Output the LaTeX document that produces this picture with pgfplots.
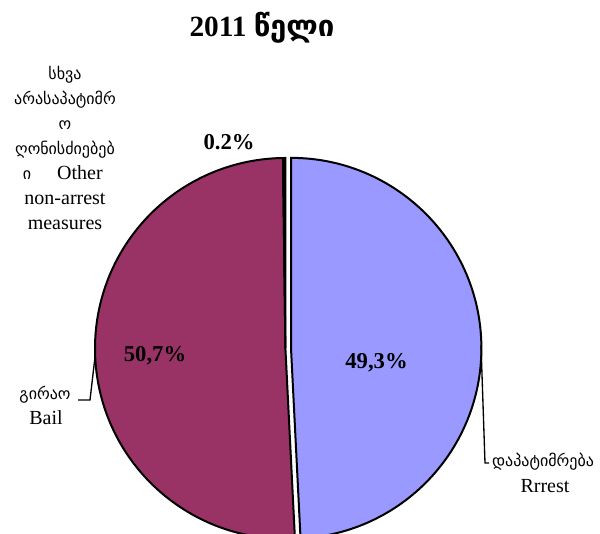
\documentclass[border=0pt]{standalone}
\usepackage{fontspec}
\setmainfont{Liberation Serif}
\newfontfamily\geo{DejaVu Sans}
\usepackage{pgfplots}
\usepackage{pgfplotstable}
\pgfplotsset{compat=1.18}
\definecolor{arrestblue}{HTML}{9999FF}
\definecolor{bailred}{HTML}{993366}
\definecolor{otheryel}{HTML}{FFFFCC}

% shares of the three measures, 2011
\pgfplotstableread{
measure share
Arrest 49.3
Bail   50.7
Other  0.2
}\piedata

\newcommand{\lat}{\fontsize{15}{18}\selectfont}
\newcommand{\geol}{\geo\fontsize{12}{18}\selectfont}
\newcommand{\pct}{\fontsize{17}{20}\selectfont\bfseries}

\begin{document}
\begin{tikzpicture}
\useasboundingbox (0,0) rectangle (450pt,400.5pt);
\pgfplotstablegetelem{0}{share}\of\piedata \let\sA\pgfplotsretval
\pgfplotstablegetelem{1}{share}\of\piedata \let\sB\pgfplotsretval
\pgfplotstablegetelem{2}{share}\of\piedata \let\sC\pgfplotsretval
\pgfmathsetmacro\tot{\sA+\sB+\sC}
\pgfmathsetmacro\aA{90-3.6*(\sA/\tot)*100}
\pgfmathsetmacro\aB{\aA-3.6*(\sB/\tot)*100}
\pgfmathsetmacro\aC{\aB-3.6*(\sC/\tot)*100}
\pgfmathsetmacro\mA{(90+\aA)/2}
\begin{axis}[
    at={(0,0)}, anchor=south west,
    x=0.75pt, y=0.75pt,
    xmin=0, xmax=600, ymin=0, ymax=534,
    hide axis, clip=false,
]
  % slices
  \filldraw[bailred, draw=black, line width=1.5pt]
    (axis cs:285.4,185.6) -- ++(\aA:142.8pt)
    arc[start angle=\aA, end angle=\aB, radius=142.8pt] -- cycle;
  \filldraw[otheryel, draw=black, line width=1.5pt]
    (axis cs:285.4,185.6) -- ++(\aB:142.8pt)
    arc[start angle=\aB, end angle=\aC, radius=142.8pt] -- cycle;
  \filldraw[arrestblue, draw=black, line width=1.5pt]
    (axis cs:285.4,185.6) ++(\mA:4.2pt) -- ++(90:142.8pt)
    arc[start angle=90, end angle=\aA, radius=142.8pt] -- cycle;

  % leader lines
  \draw[black, line width=1pt] (axis cs:78,134) -- (axis cs:90,134) -- (axis cs:95,177);
  \draw[black, line width=1pt] (axis cs:481,189) -- (axis cs:485,71) -- (axis cs:489,71);

  % title
  \node[anchor=base, font=\fontsize{22}{26}\selectfont\bfseries]
    at (axis cs:262,497) {2011 {\geo წელი}};

  % percentages
  \node[anchor=base, font=\pct] at (axis cs:229,384) {0.2\%};
  \node[anchor=base, font=\pct] at (axis cs:155,172) {50,7\%};
  \node[anchor=base, font=\pct] at (axis cs:376.5,165) {49,3\%};

  % other non-arrest measures
  \node[anchor=base, font=\geol] at (axis cs:65,454) {სხვა};
  \node[anchor=base, font=\geol] at (axis cs:65,429) {არასაპატიმრ};
  \node[anchor=base, font=\geol] at (axis cs:65,404) {ო};
  \node[anchor=base, font=\geol] at (axis cs:65,379) {ღონისძიებებ};
  \node[anchor=base, font=\geol] at (axis cs:27,354) {ი};
  \node[anchor=base, font=\lat] at (axis cs:80,354) {Other};
  \node[anchor=base, font=\lat] at (axis cs:65,329) {non-arrest};
  \node[anchor=base, font=\lat] at (axis cs:65,304) {measures};

  % bail
  \node[anchor=base, font=\geol] at (axis cs:45,134) {გირაო};
  \node[anchor=base, font=\lat] at (axis cs:46,109) {Bail};

  % arrest
  \node[anchor=base, font=\geol] at (axis cs:543,67) {დაპატიმრება};
  \node[anchor=base, font=\lat] at (axis cs:545,41) {Rrrest};
\end{axis}
\end{tikzpicture}
\end{document}
